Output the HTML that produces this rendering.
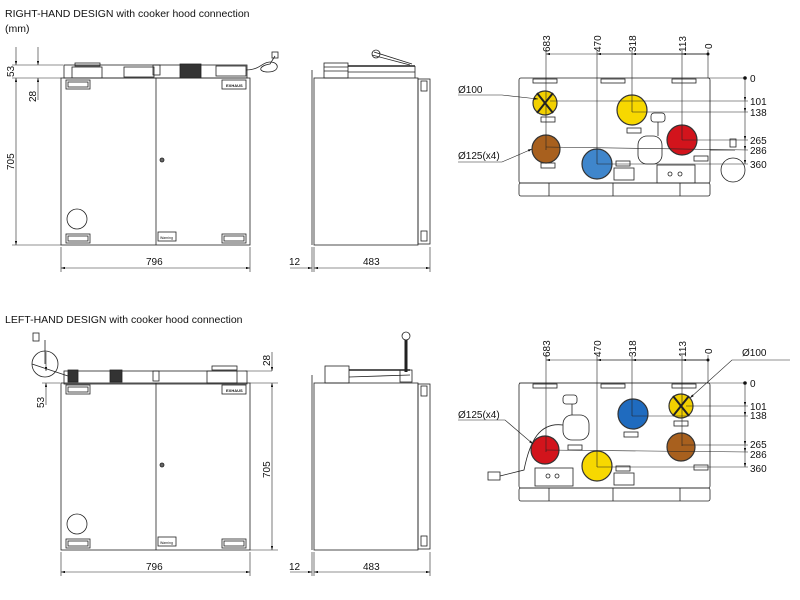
<!DOCTYPE html>
<html><head><meta charset="utf-8"><style>
html,body{margin:0;padding:0;background:#fff;width:800px;height:600px;overflow:hidden}
svg{display:block}
text{font-family:"Liberation Sans",sans-serif;fill:#111}
</style></head><body>
<svg width="800" height="600" viewBox="0 0 800 600" xmlns="http://www.w3.org/2000/svg">
<defs>
<marker id="a" viewBox="0 0 10 6" refX="10" refY="3" markerWidth="8" markerHeight="4" orient="auto-start-reverse"><path d="M0,0L10,3L0,6z" fill="#111"/></marker>
</defs>
<text x="5" y="17" font-size="10.5">RIGHT-HAND DESIGN with cooker hood connection</text>
<text x="5" y="32" font-size="10.5">(mm)</text>
<text x="5" y="323" font-size="10.5">LEFT-HAND DESIGN with cooker hood connection</text>

<!-- ========== FRONT VIEWS ========== -->
<g id="front" stroke="#222" fill="none" stroke-width="0.8">
 <rect x="61" y="78" width="189" height="167" fill="#fff"/>
 <line x1="156" y1="78" x2="156" y2="245"/>
 <rect x="66" y="80" width="24" height="9"/><rect x="68" y="82" width="20" height="5"/>
 <rect x="222" y="80" width="24" height="9"/>
 <rect x="66" y="234" width="24" height="9"/><rect x="68" y="236" width="20" height="5"/>
 <rect x="222" y="234" width="24" height="9"/><rect x="224" y="236" width="20" height="5"/>
 <circle cx="77" cy="219" r="10"/>
 <circle cx="162" cy="160" r="2" fill="#666"/>
 <rect x="158" y="232" width="18" height="9"/>
 <text x="160" y="239" font-size="3.5" stroke="none">Warning</text>
 <text x="226" y="87" font-size="4" stroke="none" font-weight="bold">EXHAUS</text>
</g>
<g stroke="#222" fill="none" stroke-width="0.8">
 <rect x="64" y="65" width="183" height="13"/>
 <rect x="75" y="63" width="25" height="3"/>
 <rect x="72" y="67" width="30" height="11"/>
 <rect x="124" y="67" width="30" height="10"/>
 <rect x="153" y="65" width="7" height="10"/>
 <rect x="180" y="64" width="21" height="14" fill="#333"/>
 <rect x="216" y="66" width="30" height="10"/>
 <path d="M246,70 C260,70 262,62 270,62 C280,62 280,72 268,72 C258,72 258,66 270,64 L275,56" />
 <rect x="272" y="52" width="6" height="6"/>
</g>
<g stroke="#222" stroke-width="0.6" fill="none">
 <line x1="12" y1="65" x2="63" y2="65"/><line x1="12" y1="78" x2="61" y2="78"/><line x1="12" y1="245" x2="61" y2="245"/>
 <line x1="16" y1="47" x2="16" y2="65" marker-end="url(#a)"/>
 <line x1="16" y1="78" x2="16" y2="245" marker-start="url(#a)" marker-end="url(#a)"/>
 <line x1="38" y1="47" x2="38" y2="65" marker-end="url(#a)"/>
 <line x1="38" y1="100" x2="38" y2="78" marker-end="url(#a)"/>
 <line x1="61" y1="247" x2="61" y2="272"/><line x1="250" y1="247" x2="250" y2="272"/>
 <line x1="61" y1="268" x2="250" y2="268" marker-start="url(#a)" marker-end="url(#a)"/>
</g>
<text font-size="10" transform="translate(14,77) rotate(-90)">53</text>
<text font-size="10" transform="translate(36,102) rotate(-90)">28</text>
<text font-size="10" transform="translate(14,170) rotate(-90)">705</text>
<text x="146" y="265" font-size="10">796</text>

<g id="side" stroke="#222" fill="none" stroke-width="0.8">
 <rect x="314" y="78" width="104" height="167" fill="#fff"/>
 <rect x="418" y="79" width="12" height="165"/>
 <rect x="421" y="81" width="6" height="10"/><rect x="421" y="231" width="6" height="10"/>
 <line x1="312" y1="70" x2="312" y2="245"/>
</g>
<g stroke="#222" fill="none" stroke-width="0.8">
 <rect x="324" y="63" width="24" height="15"/>
 <line x1="324" y1="67" x2="348" y2="67"/><line x1="324" y1="71" x2="348" y2="71"/>
 <line x1="348" y1="66" x2="415" y2="66" stroke-width="1.4"/>
 <line x1="348" y1="72" x2="415" y2="72"/>
 <line x1="415" y1="66" x2="415" y2="78"/>
 <path d="M372,55 L410,65 M374,52 L412,64"/><circle cx="376" cy="54" r="4"/>
</g>
<g stroke="#222" stroke-width="0.6" fill="none">
 <line x1="312" y1="247" x2="312" y2="272"/><line x1="314" y1="247" x2="314" y2="272"/><line x1="430" y1="247" x2="430" y2="272"/>
 <line x1="290" y1="268" x2="312" y2="268" marker-end="url(#a)"/>
 <line x1="314" y1="268" x2="430" y2="268" marker-start="url(#a)" marker-end="url(#a)"/>
</g>
<text x="289" y="265" font-size="10">12</text>
<text x="363" y="265" font-size="10">483</text>

<!-- back view right-hand -->
<g stroke="#222" fill="none" stroke-width="0.8">
 <rect x="519" y="78" width="191" height="105" rx="2" fill="#fff"/>
 <rect x="519" y="183" width="191" height="13" rx="2"/>
 <line x1="549" y1="183" x2="549" y2="196"/><line x1="613" y1="183" x2="613" y2="196"/><line x1="680" y1="183" x2="680" y2="196"/>
 <rect x="533" y="79" width="24" height="4"/><rect x="601" y="79" width="24" height="4"/><rect x="672" y="79" width="24" height="4"/>
 <rect x="614" y="168" width="20" height="12"/>
 <rect x="657" y="165" width="38" height="18"/>
 <circle cx="670" cy="174" r="2"/><circle cx="680" cy="174" r="2"/>
 <rect x="651" y="113" width="14" height="9" rx="3"/>
 <line x1="658" y1="122" x2="658" y2="136"/>
 <rect x="638" y="136" width="24" height="28" rx="9"/>
 <path d="M710,150 L735,150"/><circle cx="733" cy="170" r="12"/><rect x="730" y="139" width="6" height="8"/>
 <rect x="541" y="117" width="14" height="5"/><rect x="627" y="128" width="14" height="5"/>
 <rect x="541" y="163" width="14" height="5"/><rect x="616" y="161" width="14" height="5"/><rect x="694" y="156" width="14" height="5"/>
</g>
<g stroke="#333" stroke-width="1.2">
 <circle cx="545" cy="103" r="12" fill="#f2d000"/>
 <line x1="537" y1="93" x2="553" y2="113" stroke="#222" stroke-width="2"/><line x1="553" y1="93" x2="537" y2="113" stroke="#222" stroke-width="2"/>
 <circle cx="632" cy="110" r="15" fill="#f7d800"/>
 <circle cx="546" cy="149" r="14" fill="#a8601e"/>
 <circle cx="597" cy="164" r="15" fill="#3f86cc"/>
 <circle cx="682" cy="140" r="15" fill="#d2141c"/>
</g>
<g stroke="#222" stroke-width="0.6" fill="none">
 <line x1="546" y1="50" x2="546" y2="150"/><line x1="597" y1="50" x2="597" y2="164"/><line x1="632" y1="50" x2="632" y2="112"/><line x1="682" y1="50" x2="682" y2="140"/><line x1="708" y1="50" x2="708" y2="78"/>
 <line x1="708" y1="54" x2="546" y2="54" marker-end="url(#a)"/>
 <line x1="708" y1="54" x2="597" y2="54" marker-end="url(#a)"/>
 <line x1="708" y1="54" x2="632" y2="54" marker-end="url(#a)"/>
 <line x1="708" y1="54" x2="682" y2="54" marker-end="url(#a)"/>
 <line x1="708" y1="78" x2="745" y2="78"/>
 <line x1="550" y1="101" x2="748" y2="101"/><line x1="632" y1="112" x2="748" y2="112"/>
 <line x1="682" y1="140" x2="748" y2="140"/><line x1="546" y1="147" x2="748" y2="150"/><line x1="597" y1="164" x2="748" y2="164"/>
 <line x1="745" y1="78" x2="745" y2="101" marker-end="url(#a)"/>
 <line x1="745" y1="101" x2="745" y2="112" marker-end="url(#a)"/>
 <line x1="745" y1="112" x2="745" y2="140" marker-end="url(#a)"/>
 <line x1="745" y1="140" x2="745" y2="150" marker-end="url(#a)"/>
 <line x1="745" y1="150" x2="745" y2="164" marker-end="url(#a)"/>
 <polyline points="458,95 502,95 538,99" marker-end="url(#a)"/>
 <polyline points="458,162 502,162 532,149" marker-end="url(#a)"/>
</g>
<circle cx="745" cy="78" r="1.8" fill="#111"/><circle cx="708" cy="54" r="1.5" fill="#111"/>
<g font-size="10">
 <text transform="translate(550,52) rotate(-90)">683</text>
 <text transform="translate(601,52) rotate(-90)">470</text>
 <text transform="translate(636,52) rotate(-90)">318</text>
 <text transform="translate(686,52) rotate(-90)">113</text>
 <text transform="translate(712,49) rotate(-90)">0</text>
 <text x="750" y="82">0</text><text x="750" y="105">101</text><text x="750" y="116">138</text>
 <text x="750" y="144">265</text><text x="750" y="154">286</text><text x="750" y="168">360</text>
 <text x="458" y="93">Ø100</text><text x="458" y="159">Ø125(x4)</text>
</g>

<!-- ========== LEFT-HAND (bottom) ========== -->
<use href="#front" transform="translate(0,305)"/>
<g stroke="#222" fill="none" stroke-width="0.8">
 <rect x="64" y="371" width="183" height="13"/>
 <rect x="212" y="366" width="25" height="4"/>
 <rect x="207" y="371" width="30" height="12"/>
 <rect x="68" y="370" width="10" height="12" fill="#333"/>
 <rect x="110" y="370" width="12" height="12" fill="#333"/>
 <rect x="153" y="371" width="6" height="10"/>
 <circle cx="45" cy="364" r="13"/><path d="M45,364 L45,340 M32,364 L68,376"/>
 <rect x="33" y="333" width="6" height="8"/>
</g>
<g stroke="#222" stroke-width="0.6" fill="none">
 <line x1="245" y1="371" x2="272" y2="371"/><line x1="250" y1="383" x2="278" y2="383"/><line x1="250" y1="550" x2="278" y2="550"/>
 <line x1="42" y1="383" x2="60" y2="383"/>
 <line x1="272" y1="352" x2="272" y2="371" marker-end="url(#a)"/>
 <line x1="272" y1="383" x2="272" y2="550" marker-start="url(#a)" marker-end="url(#a)"/>
 <line x1="46" y1="405" x2="46" y2="383" marker-end="url(#a)"/>
 <line x1="46" y1="352" x2="46" y2="371" marker-end="url(#a)"/>
 <line x1="61" y1="552" x2="61" y2="576"/><line x1="250" y1="552" x2="250" y2="576"/>
 <line x1="61" y1="572" x2="250" y2="572" marker-start="url(#a)" marker-end="url(#a)"/>
</g>
<text font-size="10" transform="translate(270,366) rotate(-90)">28</text>
<text font-size="10" transform="translate(44,408) rotate(-90)">53</text>
<text font-size="10" transform="translate(270,478) rotate(-90)">705</text>
<text x="146" y="570" font-size="10">796</text>

<use href="#side" transform="translate(0,305)"/>
<g stroke="#222" fill="none" stroke-width="0.8">
 <rect x="325" y="366" width="24" height="17"/>
 <line x1="349" y1="370" x2="410" y2="370" stroke-width="1.4"/>
 <line x1="349" y1="377" x2="410" y2="375"/>
 <rect x="400" y="370" width="12" height="12"/>
 <line x1="406" y1="340" x2="406" y2="372" stroke-width="3"/>
 <circle cx="406" cy="336" r="4"/>
</g>
<g stroke="#222" stroke-width="0.6" fill="none">
 <line x1="312" y1="552" x2="312" y2="576"/><line x1="314" y1="552" x2="314" y2="576"/><line x1="430" y1="552" x2="430" y2="576"/>
 <line x1="290" y1="572" x2="312" y2="572" marker-end="url(#a)"/>
 <line x1="314" y1="572" x2="430" y2="572" marker-start="url(#a)" marker-end="url(#a)"/>
</g>
<text x="289" y="570" font-size="10">12</text>
<text x="363" y="570" font-size="10">483</text>

<!-- back view left-hand -->
<g stroke="#222" fill="none" stroke-width="0.8">
 <rect x="519" y="383" width="191" height="105" rx="2" fill="#fff"/>
 <rect x="519" y="488" width="191" height="13" rx="2"/>
 <line x1="549" y1="488" x2="549" y2="501"/><line x1="613" y1="488" x2="613" y2="501"/><line x1="680" y1="488" x2="680" y2="501"/>
 <rect x="533" y="384" width="24" height="4"/><rect x="601" y="384" width="24" height="4"/><rect x="672" y="384" width="24" height="4"/>
 <rect x="614" y="473" width="20" height="12"/>
 <rect x="535" y="468" width="38" height="18"/>
 <circle cx="548" cy="476" r="2"/><circle cx="557" cy="476" r="2"/>
 <rect x="563" y="395" width="14" height="9" rx="3"/>
 <line x1="572" y1="404" x2="572" y2="415"/>
 <rect x="563" y="415" width="26" height="25" rx="9"/>
 <path d="M563,425 C540,422 530,440 524,470 L500,476"/><rect x="488" y="472" width="12" height="8"/>
 <rect x="624" y="432" width="14" height="5"/><rect x="568" y="445" width="14" height="5"/><rect x="616" y="466" width="14" height="5"/><rect x="694" y="465" width="14" height="5"/><rect x="674" y="421" width="14" height="5"/>
</g>
<g stroke="#333" stroke-width="1.2">
 <circle cx="681" cy="406" r="12" fill="#f2d000"/>
 <line x1="673" y1="396" x2="689" y2="416" stroke="#222" stroke-width="2"/><line x1="689" y1="396" x2="673" y2="416" stroke="#222" stroke-width="2"/>
 <circle cx="633" cy="414" r="15" fill="#1f6bbf"/>
 <circle cx="681" cy="447" r="14" fill="#a8601e"/>
 <circle cx="545" cy="450" r="14" fill="#d2141c"/>
 <circle cx="597" cy="466" r="15" fill="#f7d800"/>
</g>
<g stroke="#222" stroke-width="0.6" fill="none">
 <line x1="546" y1="355" x2="546" y2="452"/><line x1="597" y1="355" x2="597" y2="467"/><line x1="632" y1="355" x2="632" y2="416"/><line x1="682" y1="355" x2="682" y2="446"/><line x1="708" y1="355" x2="708" y2="383"/>
 <line x1="708" y1="360" x2="546" y2="360" marker-end="url(#a)"/>
 <line x1="708" y1="360" x2="597" y2="360" marker-end="url(#a)"/>
 <line x1="708" y1="360" x2="632" y2="360" marker-end="url(#a)"/>
 <line x1="708" y1="360" x2="682" y2="360" marker-end="url(#a)"/>
 <line x1="519" y1="383" x2="745" y2="383"/>
 <line x1="686" y1="406" x2="748" y2="406"/><line x1="632" y1="416" x2="748" y2="416"/>
 <line x1="682" y1="445" x2="748" y2="445"/><line x1="546" y1="450" x2="748" y2="452"/><line x1="597" y1="467" x2="748" y2="467"/>
 <line x1="745" y1="383" x2="745" y2="406" marker-end="url(#a)"/>
 <line x1="745" y1="406" x2="745" y2="416" marker-end="url(#a)"/>
 <line x1="745" y1="416" x2="745" y2="445" marker-end="url(#a)"/>
 <line x1="745" y1="445" x2="745" y2="452" marker-end="url(#a)"/>
 <line x1="745" y1="452" x2="745" y2="467" marker-end="url(#a)"/>
 <polyline points="790,360 732,360 690,398" marker-end="url(#a)"/>
 <polyline points="458,420 505,420 533,444" marker-end="url(#a)"/>
</g>
<circle cx="745" cy="383" r="1.8" fill="#111"/><circle cx="708" cy="360" r="1.5" fill="#111"/>
<g font-size="10">
 <text transform="translate(550,357) rotate(-90)">683</text>
 <text transform="translate(601,357) rotate(-90)">470</text>
 <text transform="translate(636,357) rotate(-90)">318</text>
 <text transform="translate(686,357) rotate(-90)">113</text>
 <text transform="translate(712,354) rotate(-90)">0</text>
 <text x="750" y="387">0</text><text x="750" y="410">101</text><text x="750" y="419">138</text>
 <text x="750" y="448">265</text><text x="750" y="458">286</text><text x="750" y="472">360</text>
 <text x="742" y="356">Ø100</text><text x="458" y="418">Ø125(x4)</text>
</g>
</svg>
</body></html>
